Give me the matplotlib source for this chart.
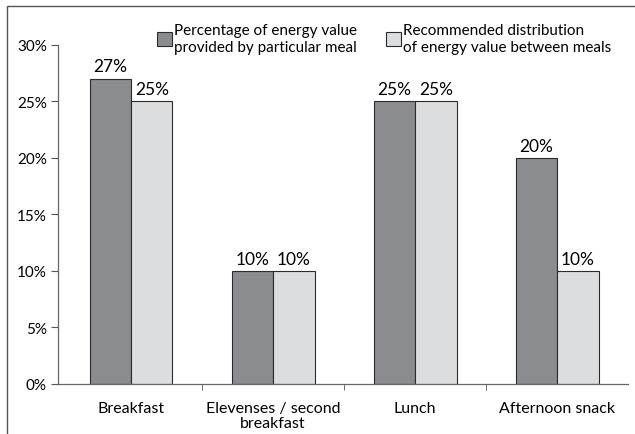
import matplotlib
matplotlib.use("Agg")
import matplotlib.pyplot as plt
from matplotlib.patches import Rectangle
import numpy as np

plt.rcParams['font.family'] = ['Lato', 'DejaVu Sans']

categories = ["Breakfast", "Elevenses / second\nbreakfast", "Lunch", "Afternoon snack"]
actual = [27, 10, 25, 20]
recommended = [25, 10, 25, 10]
labels = ["Percentage of energy value\nprovided by particular meal",
          "Recommended distribution\nof energy value between meals"]
yticks = [0, 5, 10, 15, 20, 25, 30]

dark = "#8b8c8f"
light = "#dcdddf"
edge = "#2b2b2b"

fig = plt.figure(figsize=(6.35, 4.35), dpi=100)
ax = fig.add_axes([0.0913, 0.115, 0.898, 0.78])

x = np.arange(len(categories))
w = 0.292
b1 = ax.bar(x - w / 2, actual, w, color=dark, edgecolor=edge, linewidth=0.8, label=labels[0])
b2 = ax.bar(x + w / 2, recommended, w, color=light, edgecolor=edge, linewidth=0.8, label=labels[1])

for bars, vals in ((b1, actual), (b2, recommended)):
    for r, v in zip(bars, vals):
        ax.annotate(f"{v}%", (r.get_x() + r.get_width() / 2, v), xytext=(0, 3),
                    textcoords="offset points", ha="center", va="bottom", fontsize=12.5)

ax.set_xlim(-0.514, 3.5)
ax.set_ylim(0, 30)
ax.set_yticks(yticks)
ax.set_yticklabels([f"{t}%" for t in yticks], fontsize=11)
ax.set_xticks(x)
ax.set_xticklabels(categories, fontsize=11.5, linespacing=1.1)
ax.set_xticks(x[:-1] + 0.5, minor=True)
ax.tick_params(axis="x", which="major", length=0, pad=12)
ax.tick_params(axis="x", which="minor", length=4, direction="out", color="#555555")
ax.tick_params(axis="y", length=5, direction="out", color="#555555", pad=3)
for s in ("top", "right"):
    ax.spines[s].set_visible(False)
for s in ("left", "bottom"):
    ax.spines[s].set_color("#666666")
    ax.spines[s].set_linewidth(0.9)

fig.legend(handles=[b1, b2], labels=labels, ncol=2, frameon=False,
           loc="upper left", bbox_to_anchor=(0.237, 0.958), fontsize=11,
           handlelength=1.0, handleheight=1.0, handletextpad=0.12,
           columnspacing=1.93, borderaxespad=0, labelspacing=0.2)

# outer frame (cut off on the right and bottom in the reference)
fig.patches.append(Rectangle((7 / 635, -0.1), 1.2, 1 - 7 / 435 + 0.1,
                             transform=fig.transFigure, fill=False,
                             edgecolor="#555555", linewidth=1.0))

fig.savefig("out.png", dpi=100)
